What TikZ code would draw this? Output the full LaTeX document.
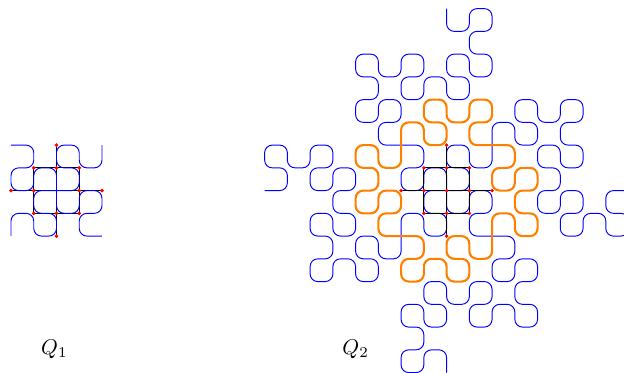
\documentclass[tikz,border=0pt]{standalone}
\usetikzlibrary{arrows.meta,positioning}

\def\innerarm{(-2,2) -- (-1,2) -- (-1,1) -- (-2,1) -- (-2,0) -- (-1,0) -- (-1,1) -- (0,1) -- (0,0)}
\def\outerarm{(0,8) -- (0,7) -- (1,7) -- (1,8) -- (2,8) -- (2,7) -- (1,7) -- (1,6) -- (2,6) -- (2,5)
  -- (1,5) -- (1,6) -- (0,6) -- (0,5) -- (1,5) -- (1,4) -- (0,4) -- (0,5) -- (-1,5) -- (-1,4)
  -- (-2,4) -- (-2,5) -- (-1,5) -- (-1,6) -- (-2,6) -- (-2,5) -- (-3,5) -- (-3,6) -- (-4,6)
  -- (-4,5) -- (-3,5) -- (-3,4) -- (-4,4) -- (-4,3) -- (-3,3) -- (-3,4) -- (-2,4) -- (-2,3)
  -- (-3,3) -- (-3,2) -- (-2,2)}
\def\ringarm{(2,2) -- (1,2) -- (1,3) -- (2,3) -- (2,4) -- (1,4) -- (1,3) -- (0,3) -- (0,4)
  -- (-1,4) -- (-1,3) -- (0,3) -- (0,2) -- (-1,2) -- (-1,3) -- (-2,3) -- (-2,2)}
\def\gridlines{(-1,-1) rectangle (1,1) (-2,0) -- (2,0) (0,-2) -- (0,2)}

\begin{document}
\begin{tikzpicture}[
    x=.375cm,y=.375cm,
    curve/.style={draw=blue,line width=.45pt,rounded corners=3.6pt},
    ring/.style={draw=orange,line width=1pt,rounded corners=3.6pt},
    gridline/.style={draw=black,line width=.45pt},
    dot/.style={circle,fill=red,inner sep=0pt,minimum size=1.8pt}
  ]
    \useasboundingbox (-2.484,-8.01) rectangle (24.95,8.38);

    % first step
    \draw[gridline] \gridlines;
    \foreach \r in {0,90,180,270}
      \draw[curve,rotate=\r] \innerarm;
    \foreach \p in {(-2,0),(2,0),(0,-2),(0,2),(-1,-1),(-1,0),(-1,1),(0,-1),(0,1),(1,-1),(1,0),(1,1)}
      \node[dot] at \p {};
    \node (qone) at (-.09,-6.98) {$Q_1$};

    % second step
    \begin{scope}[shift={(17.15,0)}]
      \foreach \r in {0,90,180,270} {
        \draw[curve,rotate=\r] \outerarm;
        \draw[curve,rotate=\r] \innerarm;
      }
      \foreach \r in {0,90,180,270}
        \draw[ring,rotate=\r] \ringarm;
      \draw[gridline] \gridlines;
      \foreach \p in {(-2,0),(2,0),(0,-2),(0,2),(-1,-1),(-1,0),(-1,1),(0,-1),(0,0),(0,1),(1,-1),(1,0),(1,1)}
        \node[dot] at \p {};
      \node (qtwo) at (-4,-6.98) {$Q_2$};
    \end{scope}
\end{tikzpicture}
\end{document}
